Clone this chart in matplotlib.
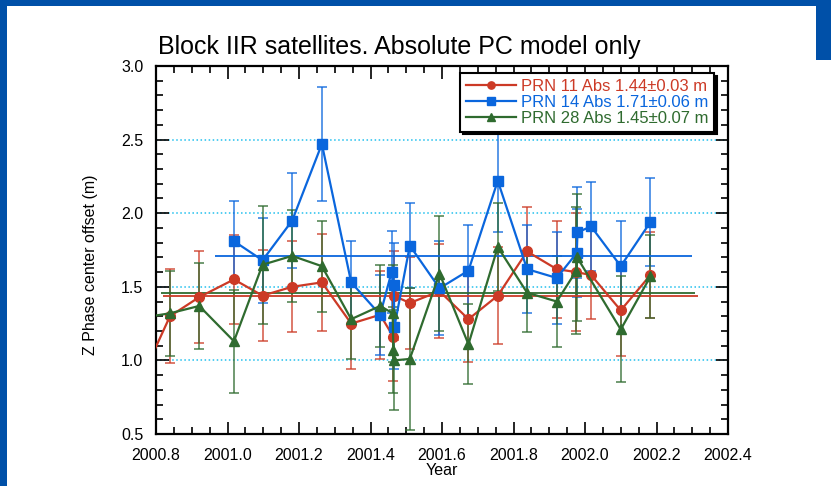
import numpy as np
import matplotlib
matplotlib.use("Agg")
import matplotlib.pyplot as plt
from matplotlib.patches import Rectangle
from matplotlib.ticker import MultipleLocator, FormatStrFormatter

plt.rcParams['font.family'] = ['Liberation Sans', 'DejaVu Sans']

# PRN 11
x11 = [2000.76, 2000.839, 2000.921, 2001.018, 2001.098, 2001.181, 2001.264, 2001.346,
       2001.427, 2001.464, 2001.465, 2001.51, 2001.593, 2001.674, 2001.756, 2001.838,
       2001.921, 2001.975, 2002.017, 2002.10, 2002.183]
y11 = [0.88, 1.30, 1.43, 1.55, 1.44, 1.50, 1.53, 1.25, 1.31, 1.16, 1.44, 1.39, 1.47,
       1.28, 1.44, 1.74, 1.62, 1.60, 1.58, 1.34, 1.58]
e11 = [0.30, 0.32, 0.31, 0.30, 0.31, 0.31, 0.33, 0.31, 0.30, 0.30, 0.30, 0.31, 0.32,
       0.29, 0.33, 0.30, 0.33, 0.40, 0.30, 0.31, 0.29]

# PRN 14
x14 = [2001.018, 2001.098, 2001.181, 2001.264, 2001.346, 2001.427, 2001.459, 2001.465,
       2001.467, 2001.51, 2001.593, 2001.674, 2001.756, 2001.838, 2001.921, 2001.977,
       2001.979, 2002.017, 2002.10, 2002.183]
y14 = [1.81, 1.68, 1.95, 2.47, 1.53, 1.31, 1.60, 1.51, 1.23, 1.78, 1.49, 1.61, 2.22,
       1.62, 1.56, 1.73, 1.87, 1.91, 1.64, 1.94]
e14 = [0.27, 0.29, 0.32, 0.39, 0.28, 0.27, 0.28, 0.29, 0.29, 0.29, 0.32, 0.31, 0.35,
       0.30, 0.31, 0.30, 0.31, 0.30, 0.31, 0.30]

# PRN 28
x28 = [2000.76, 2000.839, 2000.921, 2001.018, 2001.098, 2001.181, 2001.264, 2001.346,
       2001.427, 2001.462, 2001.464, 2001.466, 2001.51, 2001.593, 2001.674, 2001.756,
       2001.838, 2001.921, 2001.976, 2001.978, 2002.10, 2002.183]
y28 = [1.29, 1.32, 1.37, 1.13, 1.65, 1.71, 1.64, 1.28, 1.37, 1.32, 1.07, 1.00, 1.01,
       1.59, 1.11, 1.77, 1.46, 1.40, 1.61, 1.70, 1.21, 1.57]
e28 = [0.30, 0.29, 0.29, 0.35, 0.40, 0.31, 0.31, 0.27, 0.28, 0.33, 0.29, 0.34, 0.48,
       0.39, 0.27, 0.30, 0.27, 0.31, 0.43, 0.43, 0.36, 0.28]

# mean offsets and the span they were drawn over
means = [1.44, 1.71, 1.455]
mean_start = [2000.82, 2000.965, 2000.813]
mean_end = [2002.317, 2002.298, 2002.308]
labels = ['PRN 11 Abs 1.44\u00b10.03 m', 'PRN 14 Abs 1.71\u00b10.06 m',
          'PRN 28 Abs 1.45\u00b10.07 m']

cols = ['#cc3a26', '#0a66dd', '#2f6b2f']
marks = ['o', 's', '^']

fig = plt.figure(figsize=(8.31, 4.86), dpi=100)
ax = fig.add_axes([156/831, 1-434/486, 572/831, 368/486])

series = [(x11, y11, e11), (x14, y14, e14), (x28, y28, e28)]
for i in range(3):
    xs, ys, es = series[i]
    ax.errorbar(xs, ys, yerr=es, fmt='none', ecolor=cols[i], alpha=0.8,
                elinewidth=1.2, capsize=3.5, capthick=1.2, zorder=2)
for i in range(3):
    ax.hlines(means[i], mean_start[i], mean_end[i], color=cols[i], lw=1.3, zorder=3)
for i in range(3):
    xs, ys, es = series[i]
    ax.plot(xs, ys, color=cols[i], marker=marks[i], ms=7, lw=1.6, label=labels[i],
            zorder=4)

ax.set_xlim(2000.8, 2002.4)
ax.set_ylim(0.5, 3.0)
ax.xaxis.set_major_locator(MultipleLocator(0.2))
ax.xaxis.set_minor_locator(MultipleLocator(0.05))
ax.yaxis.set_major_locator(MultipleLocator(0.5))
ax.yaxis.set_minor_locator(MultipleLocator(0.1))
ax.xaxis.set_major_formatter(FormatStrFormatter('%.1f'))
ax.yaxis.set_major_formatter(FormatStrFormatter('%.1f'))
ax.tick_params(which='both', direction='in', top=True, right=True, width=1.2,
               labelsize=11.5)
ax.tick_params(which='major', length=9)
ax.tick_params(which='minor', length=5)
ax.tick_params(axis='x', pad=10)
ax.tick_params(axis='y', pad=9)
for s in ax.spines.values():
    s.set_linewidth(1.6)

ax.yaxis.grid(True, which='major', color='#22c0ee', ls=':', lw=1.1)
ax.set_axisbelow(True)

ax.set_xlabel('Year', fontsize=11.5, labelpad=0)
ax.set_ylabel('Z Phase center offset (m)', fontsize=11.5)
ax.yaxis.set_label_coords(-0.102, 0.46)

leg = ax.legend(loc='upper right', bbox_to_anchor=(0.9755, 0.98), fontsize=12,
                labelcolor='linecolor', fancybox=False, framealpha=1,
                edgecolor='black', handlelength=3.0, handletextpad=0.3,
                labelspacing=0.05, borderpad=0.35, borderaxespad=0,
                markerscale=0.75, shadow={'color': 'black', 'alpha': 1})
leg.get_frame().set_linewidth(1.5)
leg.set_zorder(10)

fig.text(158/831, 1-54/486, 'Block IIR satellites. Absolute PC model only',
         fontsize=18, va='baseline', ha='left')

# blue frame of the slide
blue = '#0050a8'
fig.add_artist(Rectangle((0, 1-6/486), 1, 6/486, transform=fig.transFigure,
                         color=blue, lw=0))
fig.add_artist(Rectangle((0, 0), 7/831, 1, transform=fig.transFigure,
                         color=blue, lw=0))
fig.add_artist(Rectangle((816/831, 1-60/486), 15/831, 60/486,
                         transform=fig.transFigure, color=blue, lw=0))

fig.savefig('out.png', dpi=100)
